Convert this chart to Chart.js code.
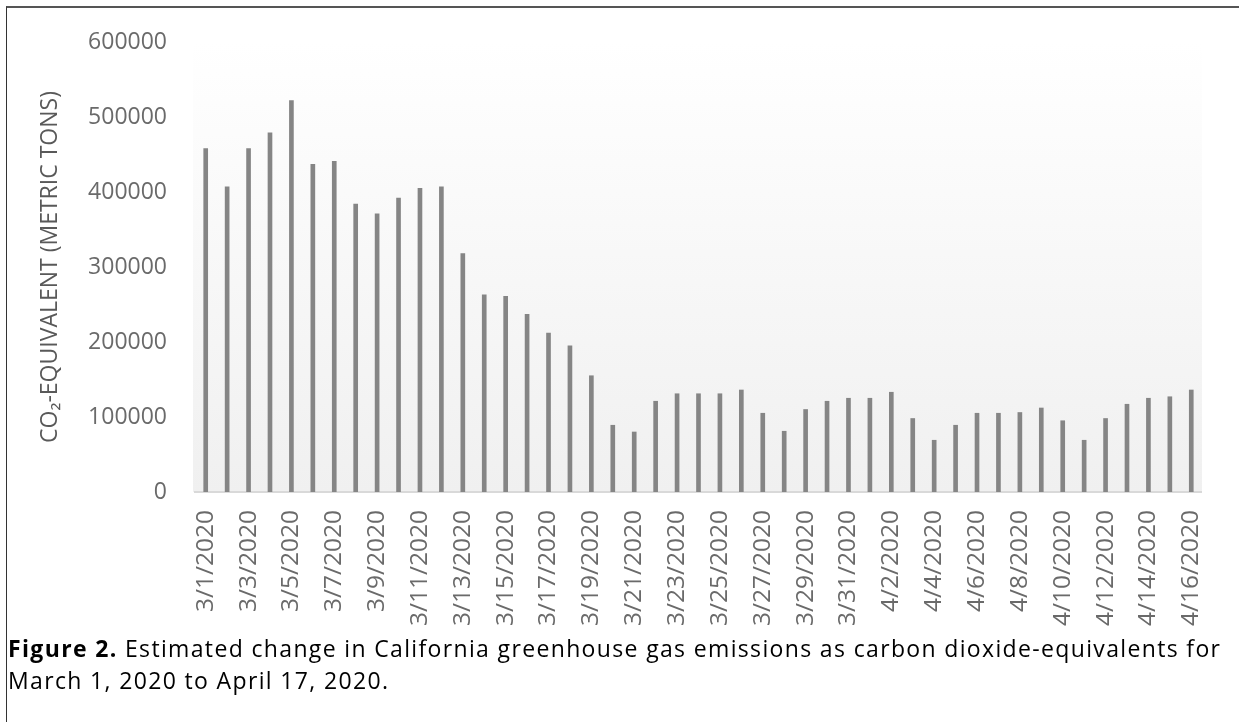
<!DOCTYPE html>
<html>
<head>
<meta charset="utf-8">
<script src="https://cdn.jsdelivr.net/npm/chart.js@4/dist/chart.umd.min.js"></script>
<style>
  html, body { margin: 0; padding: 0; background: #fff; }
  #page { position: relative; width: 1239px; height: 722px; overflow: hidden; }
  #frame { position: absolute; left: 6px; top: 6px; right: -10px; bottom: -10px;
           border-top: 2px solid #555; border-left: 1.5px solid #333; }
  #wrap { position: absolute; left: 0; top: 0; width: 1239px; height: 640px; }
  #caption { position: absolute; left: 8px; top: 632px; font-family: "Open Sans", sans-serif;
             font-size: 23px; letter-spacing: 1.35px; line-height: 32px; color: #000; white-space: nowrap; }
  #caption b { font-weight: 700; }
</style>
</head>
<body>
<div id="page">
  <div id="frame"></div>
  <div id="wrap"><canvas id="co2Chart"></canvas></div>
  <div id="caption"><b>Figure 2.</b> Estimated change in California greenhouse gas emissions as carbon dioxide-equivalents for<br>March 1, 2020 to April 17, 2020.</div>
</div>
<script>
// ── Data ─────────────────────────────────────────────────────────────────────
const DATES = [
  '3/1/2020','3/2/2020','3/3/2020','3/4/2020','3/5/2020','3/6/2020','3/7/2020','3/8/2020',
  '3/9/2020','3/10/2020','3/11/2020','3/12/2020','3/13/2020','3/14/2020','3/15/2020','3/16/2020',
  '3/17/2020','3/18/2020','3/19/2020','3/20/2020','3/21/2020','3/22/2020','3/23/2020','3/24/2020',
  '3/25/2020','3/26/2020','3/27/2020','3/28/2020','3/29/2020','3/30/2020','3/31/2020','4/1/2020',
  '4/2/2020','4/3/2020','4/4/2020','4/5/2020','4/6/2020','4/7/2020','4/8/2020','4/9/2020',
  '4/10/2020','4/11/2020','4/12/2020','4/13/2020','4/14/2020','4/15/2020','4/16/2020'
];
const EMISSIONS = [
  458000, 407000, 458000, 479000, 522000, 437000, 441000, 384000,
  371000, 392000, 405000, 407000, 318000, 263000, 261000, 237000,
  212000, 195000, 155000,  89000,  80000, 121000, 131000, 131000,
  131000, 136000, 105000,  81000, 110000, 121000, 125000, 125000,
  133000,  98000,  69000,  89000, 105000, 105000, 106000, 112000,
   95000,  69000,  98000, 117000, 125000, 127000, 136000
];
const Y_TICKS = [0, 100000, 200000, 300000, 400000, 500000, 600000];
const Y_TITLE = 'CO\u2082-EQUIVALENT (METRIC TONS)';

// ── Plot-area gradient (Excel style) ─────────────────────────────────────────
const plotFill = {
  id: 'plotFill',
  beforeDraw(chart) {
    const { ctx, chartArea: a } = chart;
    const g = ctx.createLinearGradient(0, a.top, 0, a.bottom);
    g.addColorStop(0, '#ffffff');
    g.addColorStop(1, '#f0f0f0');
    ctx.save();
    ctx.fillStyle = g;
    ctx.fillRect(a.left - 2, a.top, a.right - a.left + 2, a.bottom - a.top);
    ctx.restore();
  }
};

const FONT = '"Open Sans", sans-serif';

new Chart(document.getElementById('co2Chart').getContext('2d'), {
  type: 'bar',
  data: {
    labels: DATES,
    datasets: [{
      data: EMISSIONS,
      backgroundColor: '#858585',
      barThickness: 4,
    }],
  },
  options: {
    responsive: true,
    maintainAspectRatio: false,
    animation: false,
    layout: { padding: { top: 42, right: 31, left: 0, bottom: 0 } },
    plugins: { legend: { display: false }, tooltip: { enabled: false } },
    scales: {
      x: {
        offset: true,
        grid: { display: false, drawTicks: false },
        border: { display: true, color: '#d9d9d9', width: 2 },
        ticks: {
          autoSkip: false, maxRotation: 90, minRotation: 90, padding: 18,
          color: '#6a6a6a', font: { family: FONT, size: 24.5 },
          callback: (v, i) => (i % 2 === 0 ? DATES[i] : ''),
        },
        afterFit: s => { s.height = 148; },
      },
      y: {
        min: 0, max: 600000,
        afterBuildTicks: s => { s.ticks = Y_TICKS.map(v => ({ value: v })); },
        grid: { display: false, drawTicks: false },
        border: { display: false },
        ticks: { padding: 28, color: '#6a6a6a', font: { family: FONT, size: 23 }, callback: v => String(v) },
        title: {
          display: true, text: Y_TITLE, color: '#595959',
          font: { family: FONT, size: 23 },
          padding: { top: 37, bottom: 0 },
        },
        afterFit: s => { s.width = 195; },
      },
    },
  },
  plugins: [plotFill],
});
</script>
</body>
</html>
